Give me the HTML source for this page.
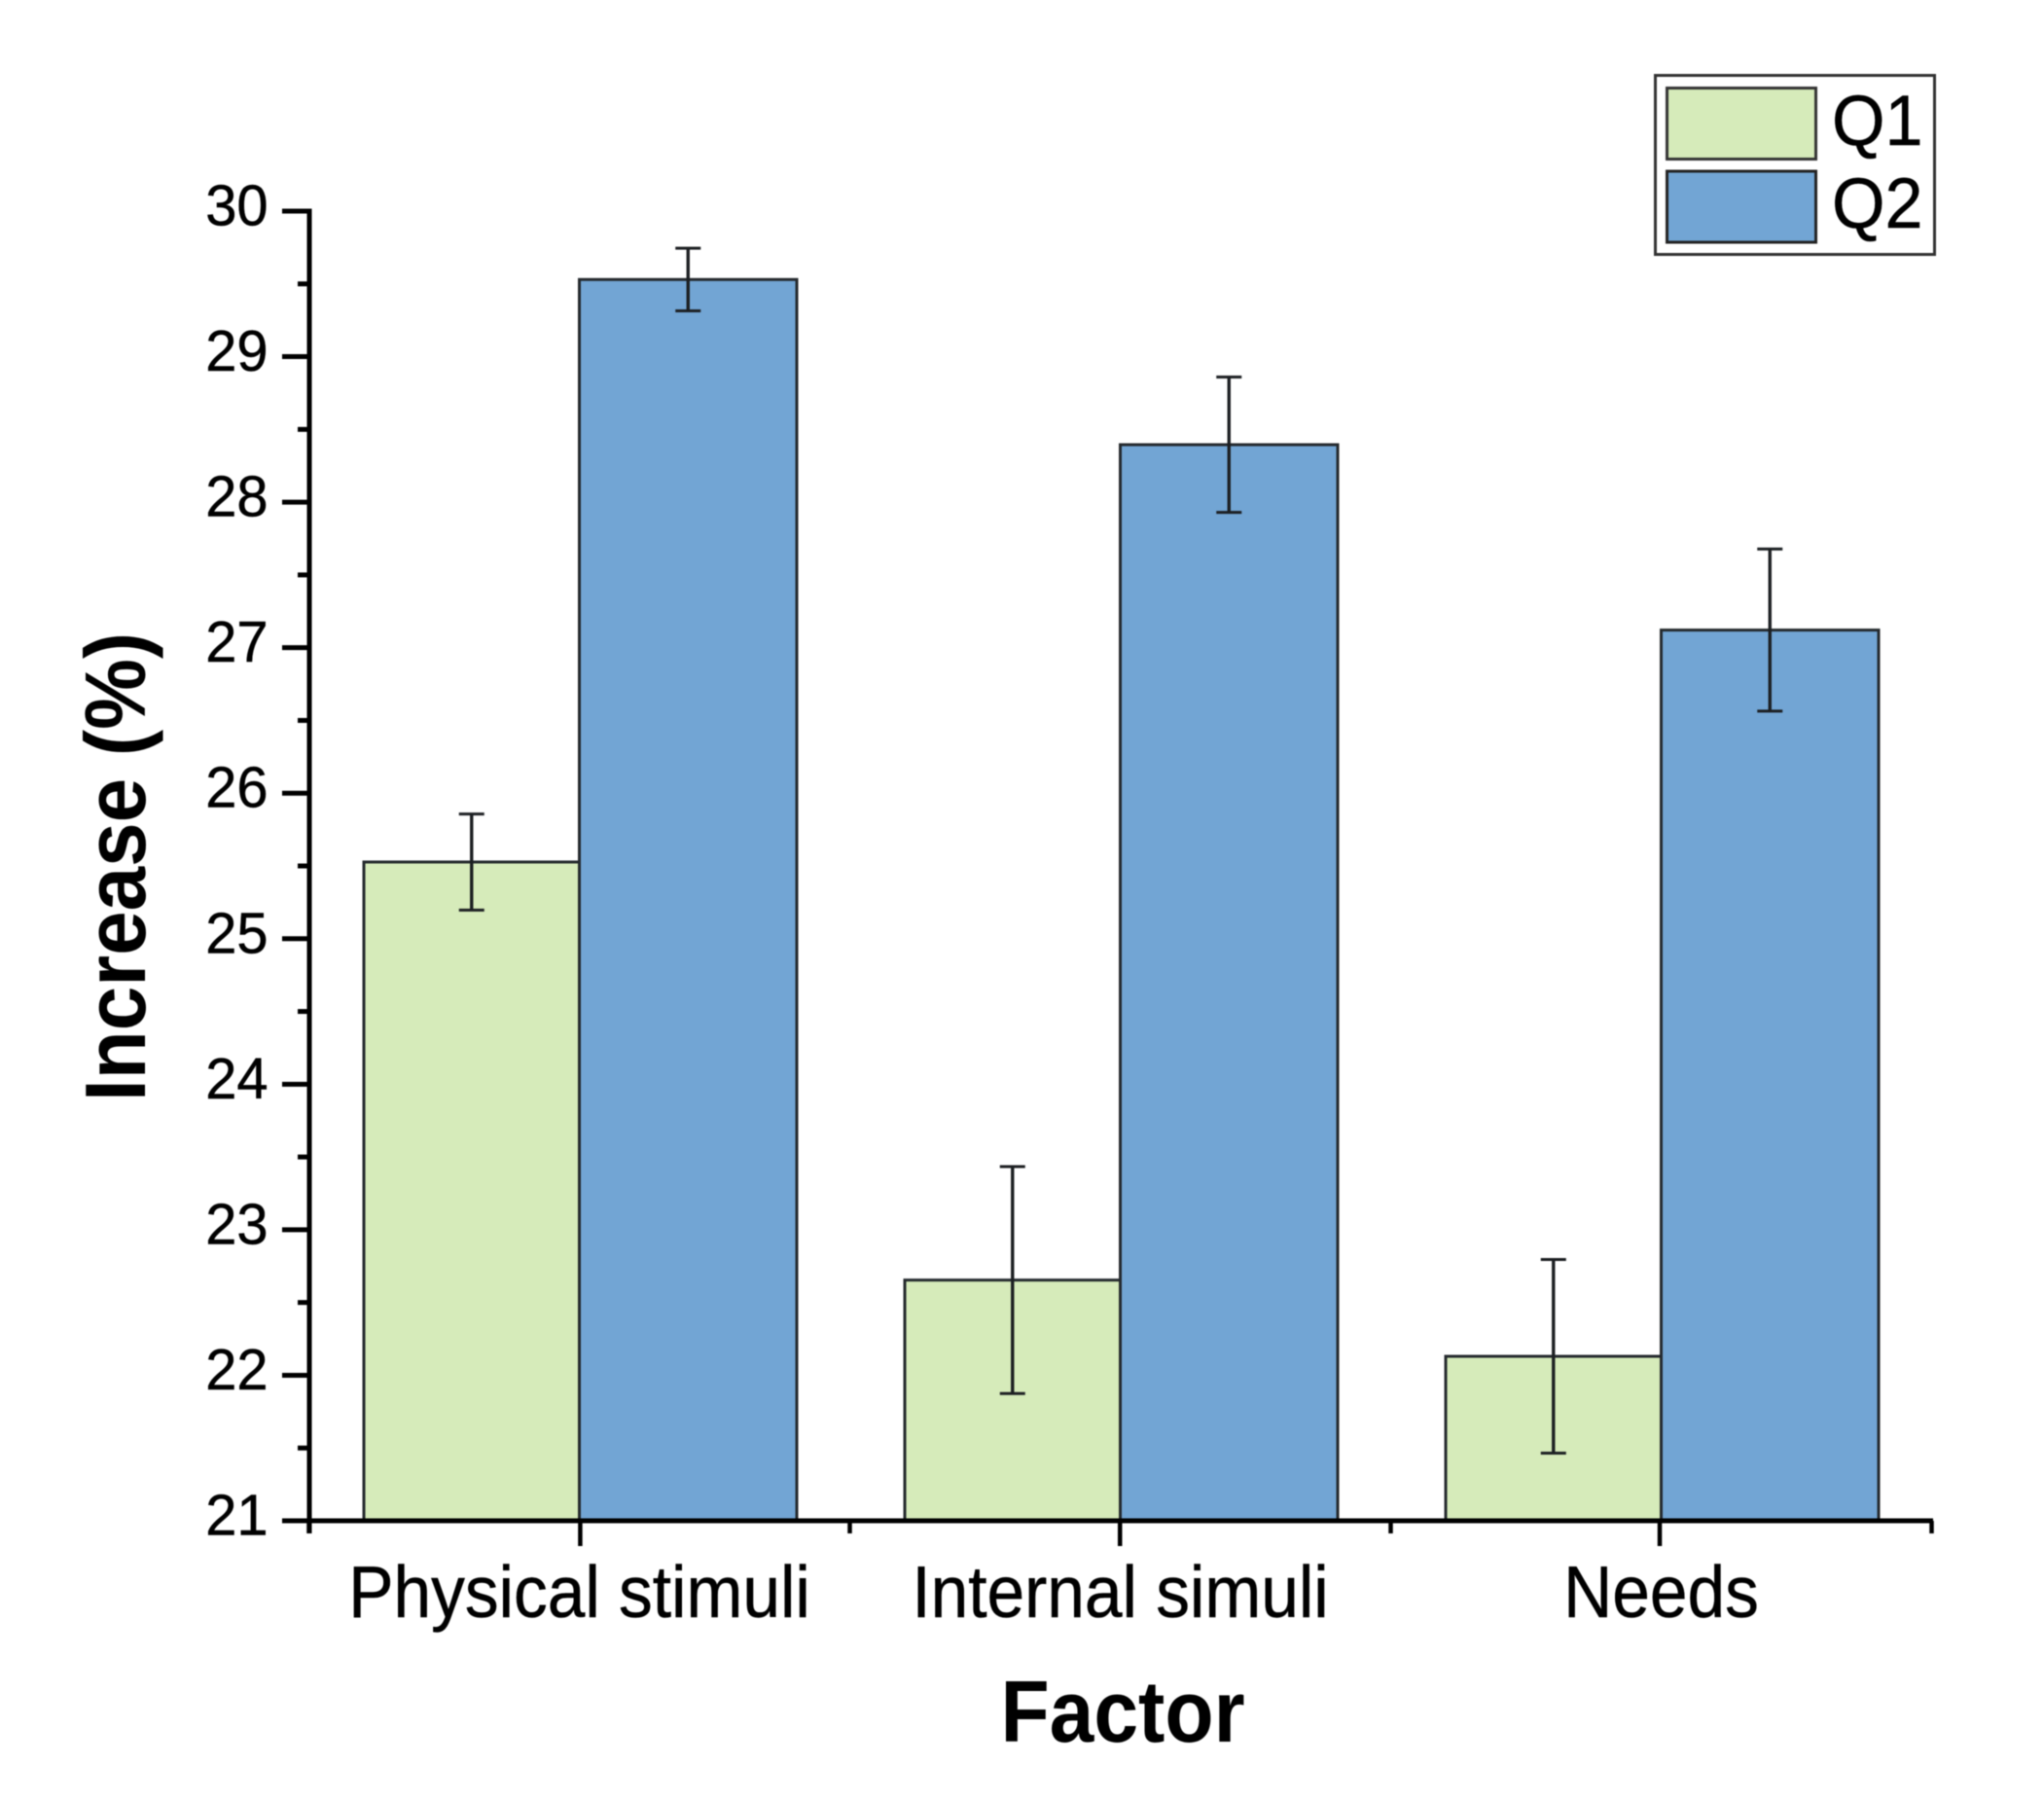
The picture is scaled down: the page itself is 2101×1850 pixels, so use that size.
<!DOCTYPE html>
<html lang="en">
<head>
<meta charset="utf-8">
<title>Increase by factor</title>
<style>
html,body{margin:0;padding:0;background:#fff;width:2101px;height:1850px;overflow:hidden}
svg{display:block;filter:blur(0.6px)}
text{font-family:"Liberation Sans",Arial,sans-serif;fill:#000}
.reg{stroke:#000;stroke-width:0.5px}
</style>
</head>
<body>
<svg id="chart" xmlns="http://www.w3.org/2000/svg" width="2101" height="1850" viewBox="0 0 2101 1850">
  <rect x="0" y="0" width="2101" height="1850" fill="#ffffff"/>
  <g id="bars"></g>
  <g id="errors"></g>
  <g id="axes"></g>
  <text transform="translate(149,1132) rotate(-90) scale(0.93,1)" font-size="88" font-weight="700">Increase (%)</text>
  <text transform="translate(1154,1790) scale(0.913,1)" font-size="90" font-weight="700" text-anchor="middle">Factor</text>
  <g>
    <rect x="1701.5" y="77.5" width="287" height="184" fill="#ffffff" stroke="#333" stroke-width="3"/>
    <rect x="1713.5" y="90.5" width="153" height="73" fill="#d6ebba" stroke="#333" stroke-width="3"/>
    <rect x="1713.5" y="176" width="153" height="73" fill="#72a5d4" stroke="#222" stroke-width="3"/>
    <text class="reg" transform="translate(1883,149) scale(0.96,1)" font-size="73">Q1</text>
    <text class="reg" transform="translate(1883,234) scale(0.96,1)" font-size="73">Q2</text>
  </g>
</svg>
<script>
const categories = ["Physical stimuli", "Internal simuli", "Needs"];
const q1Values = [25.527, 22.654, 22.13];
const q2Values = [29.53, 28.395, 27.121];
const q1Errors = [0.33, 0.78, 0.665];
const q2Errors = [0.215, 0.465, 0.557];
const yTickLabels = ["21", "22", "23", "24", "25", "26", "27", "28", "29", "30"];

const NS = "http://www.w3.org/2000/svg";
const barColors = { q1: "#d6ebba", q2: "#72a5d4" };
const yMin = 21, yMax = 30;
const yBottom = 1563, yTop = 217;
const firstMid = 595.5, bandStep = 556, q1Width = 221.5, q2Width = 223.5;
const firstTick = 596.4, tickStep = 554.8;
const axisLeft = 318, axisRight = 1985;

function yScale(v) { return yBottom - (v - yMin) / (yMax - yMin) * (yBottom - yTop); }
function xScale(i) { return firstMid + i * bandStep; }

function mk(tag, attrs, parent) {
  const el = document.createElementNS(NS, tag);
  for (const k in attrs) el.setAttribute(k, attrs[k]);
  parent.appendChild(el);
  return el;
}

const barsG = document.getElementById("bars");
const errG = document.getElementById("errors");
const axesG = document.getElementById("axes");

function drawSeries(values, errors, seriesName, color, side) {
  values.forEach(function (v, i) {
    const mid = xScale(i);
    const w = side === 0 ? q1Width : q2Width;
    const x0 = side === 0 ? mid - w : mid;
    const top = yScale(v);
    const bar = mk("rect", { x: x0, y: top, width: w, height: yBottom - top, fill: color, stroke: "#24292d", "stroke-width": 3 }, barsG);
    
    

    const cx = x0 + w / 2;
    const hi = yScale(v + errors[i]);
    const lo = yScale(v - errors[i]);
    const g = mk("g", { stroke: "#1c1f22", "stroke-width": 3, fill: "none" }, errG);
    
    
    mk("line", { x1: cx, x2: cx, y1: hi, y2: lo, "stroke-width": 3.4 }, g);
    mk("line", { x1: cx - 13, x2: cx + 13, y1: hi, y2: hi }, g);
    mk("line", { x1: cx - 13, x2: cx + 13, y1: lo, y2: lo }, g);
  });
}
drawSeries(q1Values, q1Errors, "q1", barColors.q1, 0);
drawSeries(q2Values, q2Errors, "q2", barColors.q2, 1);

/* y axis */
const yAxisLine = mk("line", { x1: axisLeft, x2: axisLeft, y1: yTop - 2.5, y2: yBottom + 13, stroke: "#000", "stroke-width": 5 }, axesG);



yTickLabels.forEach(function (label, i) {
  const val = parseFloat(label);
  const y = yScale(val);
  const tick = mk("line", { x1: 290, x2: axisLeft, y1: y, y2: y, stroke: "#000", "stroke-width": 5 }, axesG);
  
  
  const t = mk("text", { class: "reg", transform: "translate(275.5," + (y + 14.5) + ") scale(0.98,1)", "font-size": 59, "text-anchor": "end" }, axesG);
  t.textContent = label;
  
  
  if (i < yTickLabels.length - 1) {
    const ym = yScale(val + 0.5);
    const minor = mk("line", { x1: 306, x2: axisLeft, y1: ym, y2: ym, stroke: "#000", "stroke-width": 5 }, axesG);
    
    
  }
});

/* x axis */
const xAxisLine = mk("line", { x1: 290, x2: axisRight + 2, y1: yBottom, y2: yBottom, stroke: "#000", "stroke-width": 5 }, axesG);



categories.forEach(function (name, i) {
  const x = firstTick + i * tickStep;
  const tick = mk("line", { x1: x, x2: x, y1: yBottom, y2: 1589, stroke: "#000", "stroke-width": 4.5 }, axesG);
  
  
  const t = mk("text", { class: "reg", transform: "translate(" + xScale(i) + ",1662) scale(0.926,1)", "font-size": 75, "text-anchor": "middle" }, axesG);
  t.textContent = name;
  
  
});
for (let i = 0; i <= categories.length; i++) {
  const x = xScale(i - 0.5);
  const minor = mk("line", { x1: x, x2: x, y1: yBottom, y2: 1576, stroke: "#000", "stroke-width": 4.5 }, axesG);
  
  
}
</script>
</body>
</html>
